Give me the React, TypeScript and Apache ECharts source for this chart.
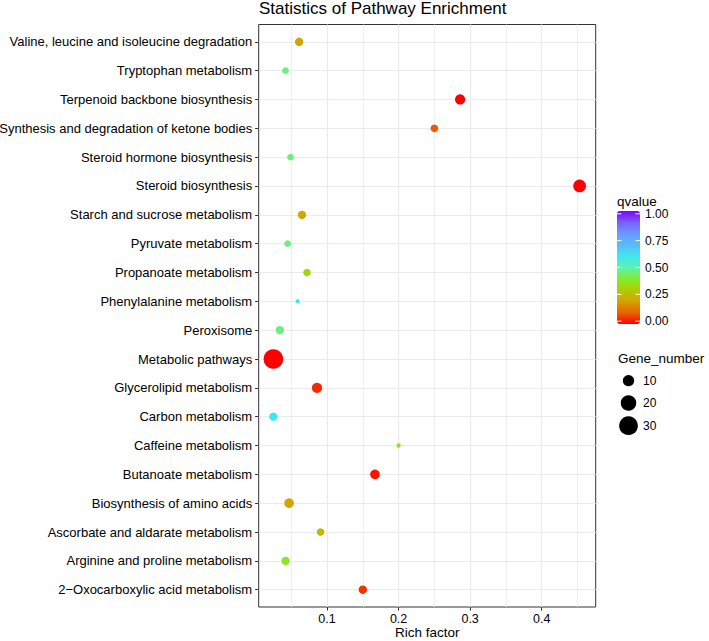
import React, { useEffect, useRef } from "react";
import * as echarts from "echarts";

const categories = [
  "Valine, leucine and isoleucine degradation",
  "Tryptophan metabolism",
  "Terpenoid backbone biosynthesis",
  "Synthesis and degradation of ketone bodies",
  "Steroid hormone biosynthesis",
  "Steroid biosynthesis",
  "Starch and sucrose metabolism",
  "Pyruvate metabolism",
  "Propanoate metabolism",
  "Phenylalanine metabolism",
  "Peroxisome",
  "Metabolic pathways",
  "Glycerolipid metabolism",
  "Carbon metabolism",
  "Caffeine metabolism",
  "Butanoate metabolism",
  "Biosynthesis of amino acids",
  "Ascorbate and aldarate metabolism",
  "Arginine and proline metabolism",
  "2\u2212Oxocarboxylic acid metabolism",
];

const richFactor = [
  0.061, 0.042, 0.286, 0.25, 0.049, 0.453, 0.065, 0.045, 0.072, 0.059,
  0.034, 0.025, 0.086, 0.025, 0.2, 0.167, 0.047, 0.091, 0.042, 0.15,
];

const geneNumber = [5, 3, 8, 4, 3, 13, 5, 3, 4, 1, 5, 33, 8, 5, 1, 7, 7, 4, 5, 5];

const qValue = [
  0.21, 0.46, 0.0, 0.09, 0.46, 0.0, 0.21, 0.46, 0.33, 0.6,
  0.46, 0.0, 0.04, 0.6, 0.38, 0.02, 0.21, 0.26, 0.38, 0.05,
];

const xTickValues = [0.1, 0.2, 0.3, 0.4];
const xMinorValues = [0.05, 0.15, 0.25, 0.35, 0.45];
const qTickValues = [1, 0.75, 0.5, 0.25, 0];
const qColors = [
  "#ff0000", "#e86400", "#d6a200", "#b0cc00", "#80ee30", "#60f0b0",
  "#40e6f0", "#58bcf8", "#6c98fc", "#7860ff", "#8000ff",
];
const sizeBreaks = [10, 20, 30];

const FONT = "'Liberation Sans', Arial, Helvetica, sans-serif";

function symbolDiameter(n: number) {
  return 1.2 + 3.2 * Math.sqrt(n);
}

export default function App() {
  const ref = useRef<HTMLDivElement>(null);

  useEffect(() => {
    const chart = echarts.init(ref.current!, null, { renderer: "svg" });

    const xMin = 0.0045;
    const xMax = 0.4755;
    const gridLeft = 258.7;
    const gridRight = 113.3;
    const barLeft = 617;
    const barTop = 211;
    const barW = 23;
    const barH = 113;
    const half = barH / 20 / 2;
    const qToY = (q: number) => barTop + half + (1 - q) * (barH - 2 * half);

    const graphics: any[] = [];
    graphics.push({
      type: "text",
      x: (gridLeft + (709 - gridRight)) / 2,
      y: 632,
      z: 100,
      style: {
        text: "Rich factor",
        fill: "#000",
        font: `13.5px ${FONT}`,
        textAlign: "center",
        textVerticalAlign: "middle",
      },
    });
    graphics.push({
      type: "text",
      x: 617,
      y: 201,
      z: 100,
      style: {
        text: "qvalue",
        fill: "#000",
        font: `13.5px ${FONT}`,
        textAlign: "left",
        textVerticalAlign: "middle",
      },
    });
    qTickValues.forEach((q) => {
      const y = qToY(q);
      graphics.push({
        type: "line",
        z: 100,
        shape: { x1: barLeft, y1: y, x2: barLeft + barW / 5, y2: y },
        style: { stroke: "#ffffff", lineWidth: 1 },
      });
      graphics.push({
        type: "line",
        z: 100,
        shape: { x1: barLeft + barW - barW / 5, y1: y, x2: barLeft + barW, y2: y },
        style: { stroke: "#ffffff", lineWidth: 1 },
      });
      graphics.push({
        type: "text",
        x: 645,
        y,
        z: 100,
        style: {
          text: q.toFixed(2),
          fill: "#000",
          font: `12px ${FONT}`,
          textAlign: "left",
          textVerticalAlign: "middle",
        },
      });
    });

    graphics.push({
      type: "text",
      x: 618,
      y: 358,
      z: 100,
      style: {
        text: "Gene_number",
        fill: "#000",
        font: `13.5px ${FONT}`,
        textAlign: "left",
        textVerticalAlign: "middle",
      },
    });
    const sizeY = [380.7, 403, 425.7];
    sizeBreaks.forEach((n, i) => {
      graphics.push({
        type: "circle",
        z: 100,
        shape: { cx: 628.5, cy: sizeY[i], r: symbolDiameter(n) / 2 },
        style: { fill: "#000" },
      });
      graphics.push({
        type: "text",
        x: 643,
        y: sizeY[i],
        z: 100,
        style: {
          text: String(n),
          fill: "#000",
          font: `12px ${FONT}`,
          textAlign: "left",
          textVerticalAlign: "middle",
        },
      });
    });

    const data = categories.map((c, i) => [richFactor[i], i, geneNumber[i], qValue[i], c]);
    const yIdx = categories.map((_, i) => i);

    chart.setOption({
      animation: false,
      backgroundColor: "#ffffff",
      textStyle: { fontFamily: FONT },
      title: {
        text: "Statistics of Pathway Enrichment",
        left: 259,
        top: 0,
        padding: 0,
        textStyle: { fontSize: 17, fontWeight: "normal", color: "#000", fontFamily: FONT },
      },
      grid: {
        left: gridLeft,
        right: gridRight,
        top: 24.5,
        bottom: 34,
        containLabel: false,
        outerBoundsMode: "none",
        show: true,
        borderColor: "#333333",
        borderWidth: 1,
        backgroundColor: "transparent",
      },
      xAxis: [
        {
          type: "value",
          min: xMin,
          max: xMax,
          position: "bottom",
          axisLine: { show: false, onZero: false },
          axisTick: {
            show: true,
            customValues: xTickValues,
            length: 3.6,
            lineStyle: { color: "#333333", width: 1 },
          },
          axisLabel: {
            customValues: xTickValues,
            formatter: (v: number) => v.toFixed(1),
            fontSize: 12.5,
            color: "#000",
            margin: 5.5,
            fontFamily: FONT,
          },
          splitLine: { show: true, lineStyle: { color: "#ebebeb", width: 1.2 } },
        },
        {
          type: "value",
          min: xMin,
          max: xMax,
          position: "top",
          axisLine: { show: false, onZero: false },
          axisTick: { show: false, customValues: xMinorValues },
          axisLabel: { show: false, customValues: xMinorValues },
          splitLine: { show: true, lineStyle: { color: "#ebebeb", width: 0.8 } },
        },
      ],
      yAxis: {
        type: "value",
        inverse: true,
        min: -0.6,
        max: 19.6,
        axisLine: { show: false, onZero: false },
        axisTick: {
          show: true,
          customValues: yIdx,
          length: 3.6,
          lineStyle: { color: "#333333", width: 1 },
        },
        axisLabel: {
          customValues: yIdx,
          formatter: (v: number) => categories[Math.round(v)] ?? "",
          fontSize: 13,
          color: "#000",
          margin: 6.5,
          fontFamily: FONT,
        },
        splitLine: { show: true, lineStyle: { color: "#ebebeb", width: 1.2 } },
      },
      visualMap: {
        type: "continuous",
        dimension: 3,
        seriesIndex: 0,
        min: 0,
        max: 1,
        left: barLeft,
        top: barTop,
        itemWidth: barW,
        itemHeight: barH,
        padding: 0,
        calculable: false,
        hoverLink: false,
        inRange: { color: qColors },
      },
      graphic: graphics,
      series: [
        {
          type: "scatter",
          xAxisIndex: 0,
          data,
          symbol: "circle",
          symbolSize: (val: any[]) => symbolDiameter(val[2]),
          itemStyle: { opacity: 1 },
          z: 5,
        },
      ],
    });

    return () => chart.dispose();
  }, []);

  return (
    <div
      ref={ref}
      style={{ position: "fixed", left: 0, top: 0, width: 709, height: 641 }}
    />
  );
}
